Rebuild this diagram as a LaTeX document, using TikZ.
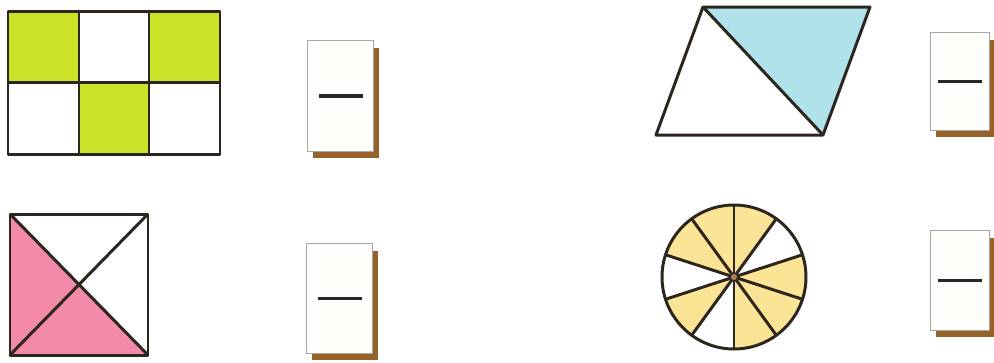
\documentclass[tikz,border=0pt]{standalone}
\begin{document}
\begin{tikzpicture}[x=0.1mm,y=-0.1mm,
  figline/.style={draw=outl,line width=0.85pt,line join=round},
  cardbox/.style={draw=gray!70,line width=0.35pt,fill=cardfill},
  fracbar/.style={draw=black!85,line width=1pt}]
\definecolor{outl}{RGB}{45,38,30}
\definecolor{lime}{RGB}{202,226,40}
\definecolor{pinkf}{RGB}{242,138,168}
\definecolor{bluef}{RGB}{176,226,236}
\definecolor{yellowf}{RGB}{252,228,150}
\definecolor{cardfill}{RGB}{255,254,250}
\definecolor{shadowbrown}{RGB}{150,98,40}
\useasboundingbox (0,0) rectangle (994,362);
\fill[white] (0,0) rectangle (994,362);

% ---- grid 2x3 ----
\fill[lime] (8,11) rectangle (79,82);
\fill[lime] (149,11) rectangle (220,82);
\fill[lime] (79,82) rectangle (149,154);
\draw[figline] (8,11) rectangle (220,154);
\draw[figline] (79,11) -- (79,154) (149,11) -- (149,154) (8,82) -- (220,82);

% ---- square with diagonals ----
\coordinate (sTL) at (10,214);
\coordinate (sTR) at (148,214);
\coordinate (sBR) at (148,355);
\coordinate (sBL) at (10,355);
\coordinate (sC) at (79,284.5);
\fill[pinkf] (sTL) -- (sC) -- (sBR) -- (sBL) -- cycle;
\draw[figline] (sTL) -- (sTR) -- (sBR) -- (sBL) -- cycle;
\draw[figline] (sTL) -- (sBR) (sTR) -- (sBL);

% ---- parallelogram ----
\coordinate (pTL) at (703,7);
\coordinate (pTR) at (870,7);
\coordinate (pBR) at (823,135);
\coordinate (pBL) at (656,135);
\fill[bluef] (pTL) -- (pTR) -- (pBR) -- cycle;
\draw[figline] (pTL) -- (pTR) -- (pBR) -- (pBL) -- cycle;
\draw[figline] (pTL) -- (pBR);

% ---- circle with 10 sectors ----
\coordinate (cC) at (734,277);
\foreach \a in {54,90,126,198,270,306,342}{
  \fill[yellowf] (cC) -- ++(\a:72 and -72) arc[start angle=\a,end angle=\a+36,x radius=72,y radius=-72] -- cycle;
}
\foreach \a in {18,54,...,342}{
  \draw[figline] (cC) -- ++(\a:72 and -72);
}
\draw[figline] (cC) circle[radius=72];
\fill[shadowbrown!80] (cC) circle[radius=3];

% ---- answer cards ----
\foreach \n/\xa/\ya/\xb/\yb in {c1/307/40/373/151, c2/306/243/372/353, c3/930/32/989/130, c4/930/230/989/330}{
  \fill[shadowbrown] (\xa+6,\ya+8) rectangle (\xb+6,\yb+7);
  \node[cardbox,inner sep=0pt,minimum width=(\xb-\xa)*0.1mm,minimum height=(\yb-\ya)*0.1mm,anchor=north west] (\n) at (\xa,\ya) {};
  \draw[fracbar] ([xshift=-2.2mm]\n.center) -- ([xshift=2.2mm]\n.center);
}
\end{tikzpicture}
\end{document}
